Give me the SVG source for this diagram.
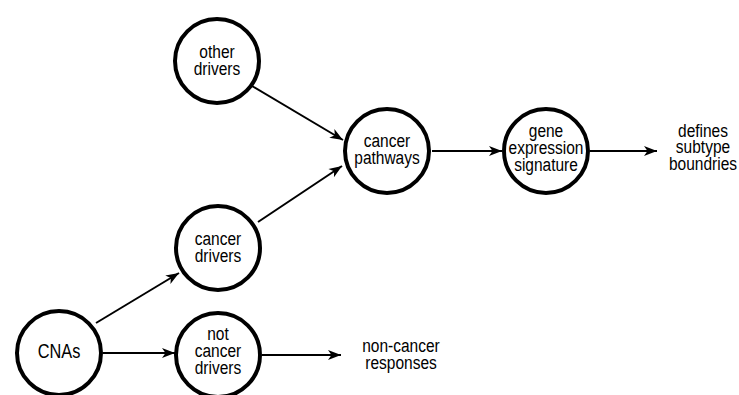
<svg xmlns="http://www.w3.org/2000/svg" width="739" height="395" viewBox="0 0 739 395">
<style>
.node circle{fill:#fff;stroke:#000;stroke-width:4}
text{font-family:"Liberation Sans",Arial,sans-serif;font-size:19px;fill:#000;text-anchor:middle}
.edge{stroke:#000;stroke-width:2;fill:none;marker-end:url(#ah)}
</style>
<defs>
<marker id="ah" markerUnits="userSpaceOnUse" markerWidth="14" markerHeight="10" refX="13" refY="5" orient="auto" overflow="visible">
<path d="M0,0 L13,5 L0,10 L3.5,5 z" fill="#000"/>
</marker>
</defs>
<rect width="739" height="395" fill="#fff"/>
<g id="connectors">
<line class="edge" x1="252" y1="86" x2="343" y2="140"/>
<line class="edge" x1="258" y1="222" x2="342" y2="166"/>
<line class="edge" x1="96" y1="323" x2="179" y2="273"/>
<line class="edge" x1="103" y1="353" x2="175" y2="353"/>
<line class="edge" x1="262" y1="355" x2="341" y2="355"/>
<line class="edge" x1="432" y1="151" x2="502" y2="151"/>
<line class="edge" x1="590" y1="151" x2="657" y2="151"/>
</g>
<g id="other-drivers" class="node">
<circle cx="217" cy="61" r="42"/>
<g transform="translate(217,0) scale(0.816,1)">
<text x="0" y="58">other</text>
<text x="0" y="75">drivers</text>
</g>
</g>
<g id="cancer-pathways" class="node">
<circle cx="387" cy="151" r="42"/>
<g transform="translate(387,0) scale(0.816,1)">
<text x="0" y="147">cancer</text>
<text x="0" y="164">pathways</text>
</g>
</g>
<g id="gene-expression-signature" class="node">
<circle cx="546" cy="151" r="42"/>
<g transform="translate(546,0) scale(0.816,1)">
<text x="0" y="137">gene</text>
<text x="0" y="154">expression</text>
<text x="0" y="171">signature</text>
</g>
</g>
<g id="cancer-drivers" class="node">
<circle cx="218" cy="248" r="42"/>
<g transform="translate(218,0) scale(0.816,1)">
<text x="0" y="245">cancer</text>
<text x="0" y="262">drivers</text>
</g>
</g>
<g id="not-cancer-drivers" class="node">
<circle cx="218" cy="355" r="42"/>
<g transform="translate(218,0) scale(0.816,1)">
<text x="0" y="340">not</text>
<text x="0" y="357">cancer</text>
<text x="0" y="374">drivers</text>
</g>
</g>
<g id="cnas" class="node">
<circle cx="59" cy="353" r="42"/>
<g transform="translate(59,0) scale(0.816,1)">
<text x="0" y="358" style="font-size:20px">CNAs</text>
</g>
</g>
<g id="defines-subtype-boundries">
<g transform="translate(703,0) scale(0.816,1)">
<text x="0" y="137">defines</text>
<text x="0" y="153.5">subtype</text>
<text x="0" y="170">boundries</text>
</g>
</g>
<g id="non-cancer-responses">
<g transform="translate(401,0) scale(0.816,1)">
<text x="0" y="352">non-cancer</text>
<text x="0" y="369">responses</text>
</g>
</g>
</svg>
